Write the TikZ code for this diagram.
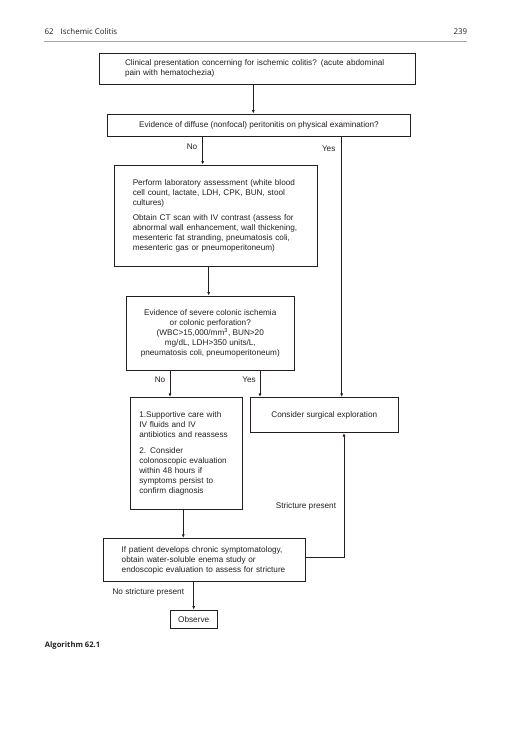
\documentclass[tikz,border=0pt]{standalone}
\usepackage{fontspec}
\setmainfont{Liberation Sans}
\newfontfamily\headfont{Open Sans}
\usetikzlibrary{arrows.meta,calc}
\definecolor{ink}{HTML}{231F20}
\begin{document}
\begin{tikzpicture}[x=1pt,y=-1pt,
  box/.style={draw=ink,line width=0.8pt,inner sep=0pt,font=\fontsize{8.2}{10}\selectfont,text=ink},
  arr/.style={draw=ink,line width=0.8pt,-{Latex[length=3.5pt,width=3pt]}},
  conn/.style={draw=ink,line width=0.8pt},
  lbl/.style={font=\fontsize{8.2}{10}\selectfont,text=ink,inner sep=0pt}]
\useasboundingbox (0,0) rectangle (518,739);
% header
\node[anchor=base west,font=\headfont\fontsize{7.9}{9}\selectfont,text=ink,inner sep=0pt] (hl) at (44.5,34.7) {62\hspace{7pt}Ischemic Colitis};
\node[anchor=base east,font=\headfont\fontsize{7.9}{9}\selectfont,text=ink,inner sep=0pt] (hr) at (467.3,34.7) {239};
\draw[gray!70,line width=0.6pt] (44,41) -- (467,41);
% boxes
\node[box,minimum width=316pt,minimum height=31pt,text width=264.6pt,align=left] (b1) at (257.3,68.8)
 {Clinical presentation concerning for ischemic colitis? (acute abdominal\\pain with hematochezia)};
\node[box,minimum width=303.4pt,minimum height=22pt,align=center] (b2) at (259,125)
 {Evidence of diffuse (nonfocal) peritonitis on physical examination?};
\node[box,minimum width=202.7pt,minimum height=101pt,text width=165.9pt,align=left] (b3) at (215.7,215.5)
 {Perform laboratory assessment (white blood\\cell count, lactate, LDH, CPK, BUN, stool\\cultures)\\[5pt]Obtain CT scan with IV contrast (assess for\\abnormal wall enhancement, wall thickening,\\mesenteric fat stranding, pneumatosis coli,\\mesenteric gas or pneumoperitoneum)};
\node[box,minimum width=167.3pt,minimum height=74pt,align=center] (b4) at (210.3,333)
 {Evidence of severe colonic ischemia\\or colonic perforation?\\(WBC>15,000/mm\textsuperscript{3}, BUN>20\\mg/dL, LDH>350 units/L,\\pneumatosis coli, pneumoperitoneum)};
\node[box,minimum width=112pt,minimum height=112pt,text width=94.8pt,align=left] (b5) at (186.7,453.3)
 {1.Supportive care with\\IV fluids and IV\\antibiotics and reassess\\[6pt]2. Consider\\colonoscopic evaluation\\within 48 hours if\\symptoms persist to\\confirm diagnosis};
\node[box,minimum width=148.7pt,minimum height=35.4pt,align=center] (b6) at (324.3,415)
 {Consider surgical exploration};
\node[box,minimum width=202.4pt,minimum height=43.4pt,text width=165.6pt,align=left] (b7) at (204.5,560)
 {If patient develops chronic symptomatology,\\obtain water-soluble enema study or\\endoscopic evaluation to assess for stricture};
\node[box,minimum width=47.3pt,minimum height=18.3pt,align=center] (b8) at (193.7,619.2)
 {Observe};
% connectors
\draw[arr] ([xshift=-4pt]b1.south) -- ([xshift=-4pt]b1.south |- b2.north);
\draw[arr] ([xshift=-13pt]b3.north |- b2.south) -- ([xshift=-13pt]b3.north);
\draw[arr] ([xshift=17.4pt]b6.north |- b2.south) -- ([xshift=17.4pt]b6.north);
\draw[arr] ([xshift=-1.6pt]b4.north |- b3.south) -- ([xshift=-1.6pt]b4.north);
\draw[arr] ([xshift=-16.7pt]b5.north |- b4.south) -- ([xshift=-16.7pt]b5.north);
\draw[arr] ([xshift=-64.3pt]b6.north |- b4.south) -- ([xshift=-64.3pt]b6.north);
\draw[arr] ([xshift=-3.4pt]b5.south) -- ([xshift=-3.4pt]b5.south |- b7.north);
\draw[arr] ([yshift=2.3pt]b7.east) -| ([xshift=19.7pt]b6.south);
\draw[arr] (b8.north |- b7.south) -- (b8.north);
% labels
\node[lbl] (lno1) at (192,146.7) {No};
\node[lbl] (lyes1) at (328.7,149) {Yes};
\node[lbl] (lno2) at (160,380) {No};
\node[lbl] (lyes2) at (249,380) {Yes};
\node[lbl] (lstr) at (306,506) {Stricture present};
\node[lbl] (lnostr) at (148.3,592.7) {No stricture present};
\node[anchor=base west,font=\headfont\bfseries\fontsize{7.6}{9}\selectfont,text=ink,inner sep=0pt] (alg) at (44.7,647.7) {Algorithm 62.1};
\end{tikzpicture}
\end{document}
